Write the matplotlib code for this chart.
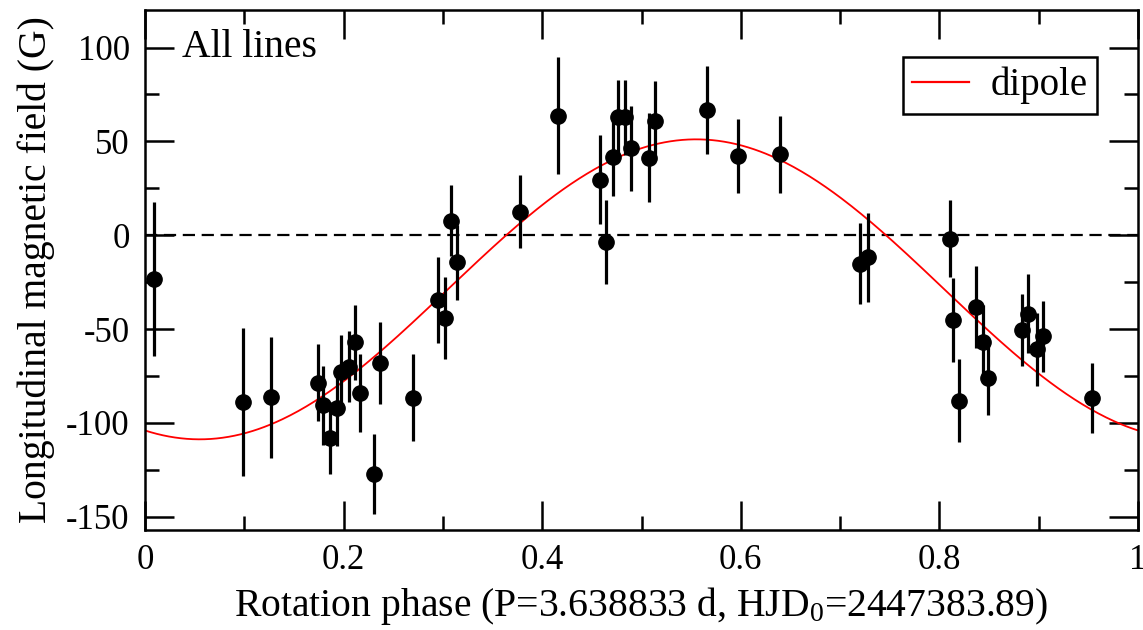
import numpy as np
import matplotlib
matplotlib.use("Agg")
import matplotlib.pyplot as plt
from matplotlib.ticker import MultipleLocator

plt.rcParams['font.family'] = ['Liberation Serif', 'DejaVu Serif']
plt.rcParams['mathtext.fontset'] = 'custom'
plt.rcParams['mathtext.rm'] = 'Liberation Serif'
plt.rcParams['mathtext.it'] = 'Liberation Serif:italic'
plt.rcParams['axes.unicode_minus'] = False

# Observations: rotation phase, longitudinal field (G) and 1-sigma error (G)
phase = [0.009, 0.099, 0.127, 0.174, 0.179, 0.186, 0.193, 0.197, 0.205, 0.211,
         0.217, 0.231, 0.237, 0.270, 0.295, 0.302, 0.308, 0.314, 0.378, 0.416,
         0.458, 0.464, 0.471, 0.476, 0.483, 0.489, 0.508, 0.514, 0.566, 0.597,
         0.639, 0.720, 0.728, 0.811, 0.814, 0.820, 0.837, 0.844, 0.849, 0.883,
         0.889, 0.898, 0.904, 0.954]
bfield = [-23.5, -88.8, -86.3, -78.5, -90.5, -108.0, -92.0, -73.0, -70.0, -57.0,
          -84.0, -127.0, -68.0, -86.5, -34.5, -44.0, 7.7, -14.3, 12.6, 63.8,
          29.5, -3.6, 41.6, 62.9, 62.9, 46.4, 41.4, 61.1, 66.6, 42.2,
          43.1, -15.2, -11.6, -1.8, -45.1, -88.1, -38.2, -57.1, -75.8, -50.5,
          -41.8, -60.7, -53.8, -86.8]
berr = [41.0, 39.6, 32.2, 20.6, 21.0, 19.0, 20.0, 20.0, 19.0, 20.0,
        21.0, 21.3, 22.0, 23.0, 23.0, 22.0, 19.0, 20.0, 19.5, 31.0,
        23.7, 22.5, 20.7, 20.0, 20.0, 22.6, 23.7, 21.0, 23.5, 19.8,
        20.4, 21.5, 23.7, 20.4, 22.5, 22.0, 22.0, 20.0, 20.0, 19.0,
        21.0, 19.5, 19.0, 18.5]

# Dipole model fit parameters: B(phi) = B0 + B1 cos(2 pi (phi - phi_max))
dipole_B0 = -28.8
dipole_B1 = 79.9
dipole_phimax = 0.555

xticks = [0, 0.2, 0.4, 0.6, 0.8, 1]
xticklabels = ['0', '0.2', '0.4', '0.6', '0.8', '1']
yticks = [-150, -100, -50, 0, 50, 100]

fig = plt.figure(figsize=(11.43, 6.30), dpi=100)
ax = fig.add_axes([145/1143, 1 - 530/630, (1138-145)/1143, (530-10)/630])

ph_model = np.linspace(0, 1, 500)
b_model = dipole_B0 + dipole_B1 * np.cos(2 * np.pi * (ph_model - dipole_phimax))
ax.plot(ph_model, b_model, color='#ff0000', lw=1.3, label='dipole', zorder=2)

ax.axhline(0, color='black', lw=1.6, ls=(0, (5.5, 3)), zorder=1)

ax.errorbar(phase, bfield, yerr=berr, fmt='o', color='black', ms=11,
            elinewidth=2.3, capsize=0, zorder=3)

ax.set_xlim(0, 1)
ax.set_ylim(-157, 120)
ax.set_xticks(xticks)
ax.set_xticklabels(xticklabels)
ax.set_yticks(yticks)
ax.xaxis.set_minor_locator(MultipleLocator(0.1))
ax.yaxis.set_minor_locator(MultipleLocator(25))
ax.tick_params(which='both', direction='in', top=True, right=True, width=1.8,
               labelsize=25, color='black')
ax.tick_params(which='major', length=21)
ax.tick_params(which='minor', length=10)
ax.tick_params(axis='x', pad=10)
ax.tick_params(axis='y', pad=11)
for s in ax.spines.values():
    s.set_linewidth(1.8)

ax.set_xlabel('Rotation phase (P=3.638833 d, HJD$_0$=2447383.89)', fontsize=28.5,
              labelpad=6)
ax.set_ylabel('Longitudinal magnetic field (G)', fontsize=28.5, labelpad=8)

ax.text(0.037, 100, 'All lines', fontsize=28.5, va='center', ha='left')

leg = ax.legend(loc='upper right', bbox_to_anchor=(1 - 41/993, 1 - 47/520),
                borderaxespad=0, fontsize=28, handlelength=1.45,
                handletextpad=0.55, borderpad=0.25, fancybox=False,
                framealpha=1, edgecolor='black')
leg.get_frame().set_linewidth(1.8)
for h in leg.get_lines():
    h.set_linewidth(1.6)

fig.savefig('out.png', dpi=100)
